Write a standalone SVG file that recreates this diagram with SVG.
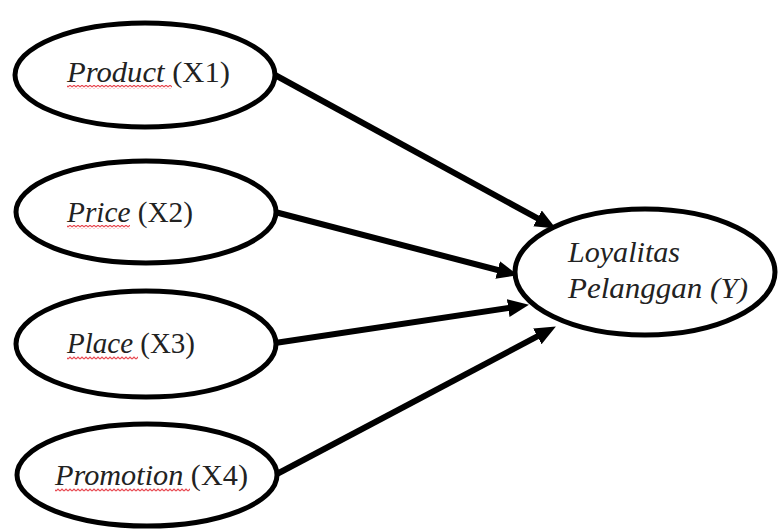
<svg xmlns="http://www.w3.org/2000/svg" width="779" height="529" viewBox="0 0 779 529">
  <style>
    .node { fill: #fff; stroke: #000; stroke-width: 5; }
    .lbl { font-family: "Liberation Serif", "DejaVu Serif", serif; font-size: 29px; fill: #222; }
    .it { font-style: italic; }
    .edge { stroke: #000; stroke-width: 6; fill: none; marker-end: url(#ah); }
    .sq { stroke: #e8474f; stroke-width: 1.2; fill: none; }
  </style>
  <defs>
    <marker id="ah" markerUnits="userSpaceOnUse" markerWidth="22" markerHeight="20" refX="8" refY="9" orient="auto">
      <path d="M0,0 L21,9 L0,18 z" fill="#000"/>
    </marker>
    <pattern id="wave" width="4" height="4" patternUnits="userSpaceOnUse">
      <path d="M0,3 L2,1 L4,3" class="sq"/>
    </pattern>
  </defs>
  <rect width="779" height="529" fill="#fff"/>
  <g id="connectors">
    <line class="edge" x1="275" y1="75" x2="544.5" y2="222.2"/>
    <line class="edge" x1="275" y1="212" x2="505.4" y2="272"/>
    <line class="edge" x1="275" y1="343" x2="516.1" y2="306.8"/>
    <line class="edge" x1="275" y1="475" x2="544.4" y2="332.6"/>
  </g>
  <g id="x1">
    <ellipse class="node" cx="145" cy="75" rx="130" ry="52"/>
    <text class="lbl" x="67" y="82" textLength="163" lengthAdjust="spacingAndGlyphs"><tspan class="it">Product</tspan> (X1)</text>
    <rect x="67" y="85" width="105" height="4" fill="url(#wave)"/>
  </g>
  <g id="x2">
    <ellipse class="node" cx="146" cy="212" rx="130" ry="51"/>
    <text class="lbl" x="67" y="222" textLength="126" lengthAdjust="spacingAndGlyphs"><tspan class="it">Price</tspan> (X2)</text>
    <rect x="67" y="225" width="63" height="4" fill="url(#wave)"/>
  </g>
  <g id="x3">
    <ellipse class="node" cx="146" cy="344" rx="130" ry="53"/>
    <text class="lbl" x="67" y="353" textLength="128" lengthAdjust="spacingAndGlyphs"><tspan class="it">Place</tspan> (X3)</text>
    <rect x="67" y="356" width="71" height="4" fill="url(#wave)"/>
  </g>
  <g id="x4">
    <ellipse class="node" cx="147" cy="475" rx="130" ry="51"/>
    <text class="lbl" x="55" y="485" textLength="193" lengthAdjust="spacingAndGlyphs"><tspan class="it">Promotion</tspan> (X4)</text>
    <rect x="55" y="488" width="135" height="4" fill="url(#wave)"/>
  </g>
  <g id="y">
    <ellipse class="node" cx="645" cy="272" rx="130" ry="63"/>
    <text class="lbl it" x="568" y="262" textLength="112" lengthAdjust="spacingAndGlyphs">Loyalitas</text>
    <text class="lbl it" x="568" y="298" textLength="180" lengthAdjust="spacingAndGlyphs">Pelanggan (Y)</text>
  </g>
</svg>
